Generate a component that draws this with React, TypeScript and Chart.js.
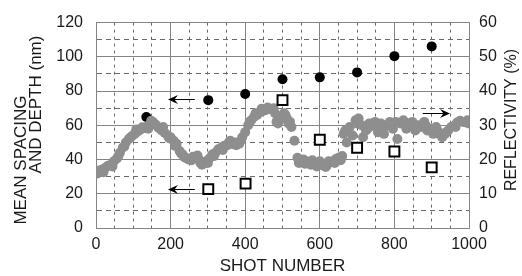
import React, { useEffect, useRef } from 'react';
import { Chart, registerables } from 'chart.js';

Chart.register(...registerables);

// Mean spacing (nm) – filled black circles, left axis
const spacingShots = [135, 301, 400, 500, 600, 700, 800, 900];
const spacingValues = [64.8, 74.7, 78.3, 86.9, 88, 90.9, 100.4, 106.1];

// Depth (nm) – open squares, left axis
const depthShots = [301, 401, 500, 600, 700, 800, 900];
const depthValues = [22.7, 25.9, 74.7, 51.6, 46.9, 44.7, 35.4];

// Reflectivity (%) – grey dots, right axis
const reflShots = [
  0, 8, 16, 24, 32, 40, 48, 56, 64, 72, 80, 88, 96, 104, 112, 120, 128, 136, 144, 152, 160,
  168, 176, 184, 192, 200, 208, 216, 224, 232, 240, 248, 256, 264, 272, 280, 288, 296, 304, 312,
  320, 328, 336, 344, 352, 360, 368, 376, 384, 392, 400, 408, 416, 424, 432, 440, 448, 456, 464,
  472, 480, 484, 492, 500, 508, 512, 516, 524, 532,
  540, 548, 556, 564, 572, 580, 588, 596, 604, 612, 620, 628, 636, 644, 652, 660,
  664, 668, 672, 680, 688, 696, 704, 712, 716, 724, 732, 740, 748, 756, 764, 772, 780, 788, 796,
  804, 808, 816, 824, 832, 840, 848, 856, 864, 872, 880, 888, 896, 904, 912, 920, 928, 936, 944,
  952, 960, 968, 976, 984, 992, 1000,
  4, 20, 44, 60, 76, 92, 108, 124, 140, 148, 180, 196, 212, 228, 236,
  260, 276, 284, 300, 316, 340, 356, 372, 388, 412, 428, 444, 460, 476, 488, 504, 520,
  544, 560, 576, 592, 600, 616, 624, 640, 656,
  676, 700, 728, 760, 792, 852, 884, 916, 940, 964, 996,
];
const reflValues = [
  16.5, 16.8, 17, 17.5, 18.2, 18.5, 19.5, 20.3, 22, 23.5, 25, 26, 26.8, 27.5, 28.2, 28.8, 29.2, 29.6, 30.2, 31, 30.2,
  29.2, 28.5, 27.8, 27, 26.5, 25.5, 24.6, 22.5, 21.5, 20.5, 20, 19.8, 20.5, 21.2, 19, 18.8, 19.5, 20.3, 21.5,
  22, 23, 23.5, 24, 24.2, 25.5, 24.5, 24.2, 24.6, 26.5, 28, 30, 31.5, 32.5, 33, 33.8, 34.2, 34.5, 34.8,
  34.6, 33.5, 31, 31.5, 32.5, 33, 32, 30.5, 29.5, 25.5,
  20.5, 19.8, 20, 19.5, 19.2, 19.8, 19, 18.5, 18.8, 18.2, 18.5, 19.2, 19.5, 20.2, 20.6, 21,
  27.5, 28.5, 25, 29.5, 27, 31.5, 32, 30, 26.5, 28.5, 30.5, 29.8, 31, 28, 30.5, 27.5, 30, 31, 29,
  31, 26, 30.5, 31.5, 29, 30.5, 31, 28.5, 30, 29.5, 31, 28.5, 29, 27.5, 29.5, 27.5, 26.5, 27.5, 28.5,
  29.5, 29.8, 30.8, 31.3, 31, 30.8, 30.5,
  15.9, 16.3, 18, 21, 23.8, 26.4, 28.8, 29.4, 29, 31.3, 29.5, 26.2, 24, 21.8, 20.8,
  20.8, 20, 18.5, 19, 21, 22.8, 25, 25, 25.5, 31, 33.5, 34.8, 35.2, 35, 30.5, 33.5, 31,
  19, 18.8, 18.5, 18, 19.5, 17.8, 19.5, 19, 19.8,
  28.5, 30.5, 29, 29.5, 30, 29.5, 30, 28.5, 28, 29.5, 31.5,
];

// Annotation arrows (left-axis units): tail shot, head shot, value
const arrowTails = [265, 265, 876];
const arrowHeads = [193, 193, 949];
const arrowValues = [75.4, 22.7, 67];

const xTitle = 'SHOT NUMBER';
const yTitleLines = ['MEAN SPACING', 'AND DEPTH (nm)'];
const y2Title = 'REFLECTIVITY (%)';

const FONT = '"Liberation Sans", Arial, sans-serif';
const TEXT = '#1a1a1a';
const SOLID = '#858585';
const DASHED = '#6a6a6a';

const overlayPlugin = {
  id: 'overlay',
  afterDatasetsDraw(chart: any) {
    const { ctx, scales } = chart;
    const x = scales.x;
    const y = scales.y;
    ctx.save();
    for (let i = 0; i < arrowTails.length; i++) {
      const xt = x.getPixelForValue(arrowTails[i]);
      const xh = x.getPixelForValue(arrowHeads[i]);
      const py = Math.round(y.getPixelForValue(arrowValues[i])) + 0.5;
      const dir = xh > xt ? 1 : -1;
      ctx.strokeStyle = '#000';
      ctx.lineWidth = 1;
      ctx.beginPath();
      ctx.moveTo(xt, py);
      ctx.lineTo(xh - dir * 4, py);
      ctx.stroke();
      ctx.fillStyle = '#000';
      ctx.beginPath();
      ctx.moveTo(xh, py);
      ctx.lineTo(xh - dir * 10, py - 4.5);
      ctx.lineTo(xh - dir * 6.5, py);
      ctx.lineTo(xh - dir * 10, py + 4.5);
      ctx.closePath();
      ctx.fill();
    }
    ctx.restore();
  },
  afterDraw(chart: any) {
    const { ctx, chartArea } = chart;
    ctx.save();
    ctx.fillStyle = TEXT;
    ctx.textBaseline = 'middle';
    ctx.textAlign = 'center';
    ctx.font = `17px ${FONT}`;
    ctx.fillText(xTitle, (chartArea.left + chartArea.right) / 2, 266);
    ctx.save();
    ctx.translate(21, 160);
    ctx.rotate(-Math.PI / 2);
    ctx.fillText(yTitleLines[0], 0, 0);
    ctx.restore();
    ctx.save();
    ctx.translate(36.5, 104.5);
    ctx.rotate(-Math.PI / 2);
    ctx.fillText(yTitleLines[1], 0, 0);
    ctx.restore();
    ctx.font = `16px ${FONT}`;
    ctx.save();
    ctx.translate(512, 120);
    ctx.rotate(-Math.PI / 2);
    ctx.fillText(y2Title, 0, 0);
    ctx.restore();
    ctx.restore();
  },
};

export default function App() {
  const ref = useRef<HTMLCanvasElement | null>(null);
  useEffect(() => {
    if (!ref.current) return;
    const chart = new Chart(ref.current, {
      type: 'scatter',
      data: {
        datasets: [
          {
            label: 'Depth',
            data: depthShots.map((s, i) => ({ x: s, y: depthValues[i] })),
            yAxisID: 'y',
            pointStyle: 'rect',
            pointRadius: 7,
            pointBackgroundColor: '#fff',
            pointBorderColor: '#000',
            pointBorderWidth: 2,
            order: 1,
          },
          {
            label: 'Reflectivity',
            data: reflShots.map((s, i) => ({ x: s, y: reflValues[i] })),
            yAxisID: 'y2',
            pointStyle: 'circle',
            pointRadius: 5,
            pointBackgroundColor: '#8e8e8e',
            pointBorderWidth: 0,
            order: 2,
          },
          {
            label: 'Mean spacing',
            data: spacingShots.map((s, i) => ({ x: s, y: spacingValues[i] })),
            yAxisID: 'y',
            pointStyle: 'circle',
            pointRadius: 5,
            pointBackgroundColor: '#000',
            pointBorderWidth: 0,
            order: 3,
          },
        ],
      },
      plugins: [overlayPlugin],
      options: {
        animation: false,
        responsive: true,
        maintainAspectRatio: false,
        layout: { padding: { top: 18, left: 0, right: 0, bottom: 0 } },
        plugins: { legend: { display: false }, tooltip: { enabled: false } },
        events: [],
        scales: {
          x: {
            type: 'linear',
            min: 0,
            max: 1000,
            afterFit: (s: any) => { s.height = 48; },
            ticks: {
              stepSize: 50,
              autoSkip: false,
              maxRotation: 0,
              padding: 7,
              color: TEXT,
              font: { family: FONT, size: 16 },
              callback: (v: any) => (Number(v) % 200 === 0 ? String(v) : ''),
            },
            grid: {
              drawTicks: false,
              lineWidth: 1,
              color: (c: any) => (c.tick && c.tick.value % 200 !== 0 ? DASHED : SOLID),
            },
            border: {
              display: true,
              color: SOLID,
              dash: (c: any) => (c.tick && c.tick.value % 200 !== 0 ? [3, 4] : []),
            },
          },
          y: {
            type: 'linear',
            position: 'left',
            min: 0,
            max: 120,
            afterFit: (s: any) => { s.width = 96; },
            ticks: {
              stepSize: 10,
              autoSkip: false,
              padding: 13,
              color: TEXT,
              font: { family: FONT, size: 16 },
              callback: (v: any) => (Number(v) % 20 === 0 ? String(v) : ''),
            },
            grid: {
              drawTicks: false,
              lineWidth: 1,
              color: (c: any) => (c.tick && c.tick.value % 20 !== 0 ? DASHED : SOLID),
            },
            border: {
              display: true,
              color: SOLID,
              dash: (c: any) => (c.tick && c.tick.value % 20 !== 0 ? [5, 4] : []),
            },
          },
          y2: {
            type: 'linear',
            position: 'right',
            min: 0,
            max: 60,
            afterFit: (s: any) => { s.width = 53; },
            ticks: {
              stepSize: 10,
              autoSkip: false,
              padding: 10,
              color: TEXT,
              font: { family: FONT, size: 16 },
            },
            grid: { drawOnChartArea: false, drawTicks: false },
            border: { display: true, color: SOLID },
          },
        },
      },
    } as any);
    return () => chart.destroy();
  }, []);
  return (
    <div style={{ position: 'absolute', left: 0, top: 0, width: 522, height: 276 }}>
      <canvas ref={ref} />
    </div>
  );
}
